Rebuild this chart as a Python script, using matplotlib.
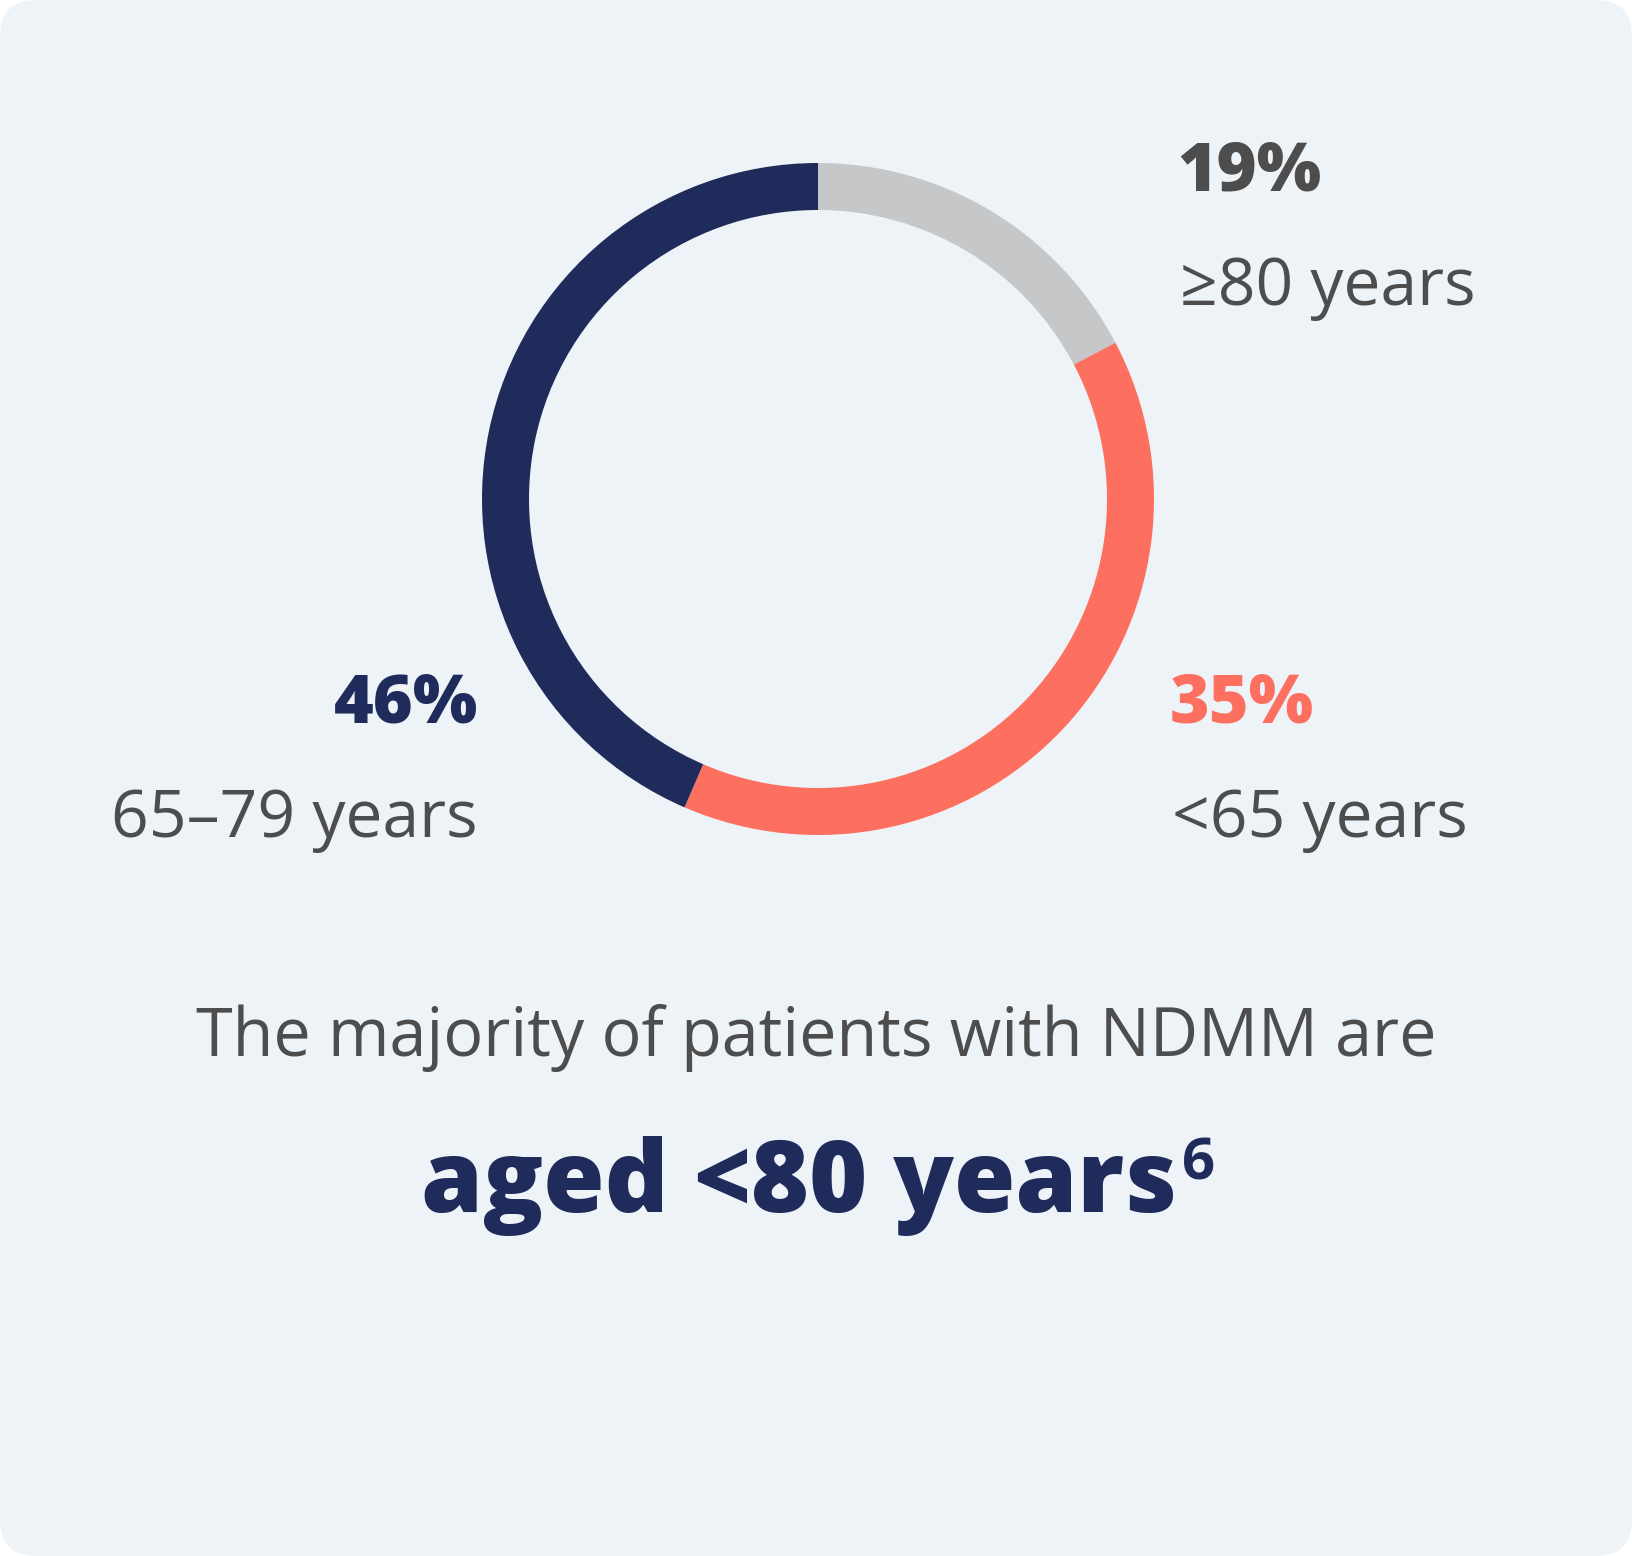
#!/usr/bin/env python3
"""Donut chart: NDMM patients by age group."""

import matplotlib
matplotlib.use("Agg")
import matplotlib.pyplot as plt
from matplotlib.patches import FancyBboxPatch

# ---------------------------------------------------------------------------
# Data
# ---------------------------------------------------------------------------

groups = ["\u226580 years", "<65 years", "65\u201379 years"]
pct_labels = ["19%", "35%", "46%"]
# arc shares as drawn in the graphic (clockwise from 12 o'clock)
arc_share = [17.3, 39.2, 43.5]

headline = "The majority of patients with NDMM are"
emphasis = "aged <80 years"
footnote = "6"

# ---------------------------------------------------------------------------
# Style
# ---------------------------------------------------------------------------

W, H = 1632, 1556
DPI = 100
BG = "#EEF3F8"
GREY_TXT = "#4D4D4D"
NAVY = "#1F2B5B"
CORAL = "#FD7060"
LIGHT_GREY = "#C6C7C9"
SEG_COLORS = [LIGHT_GREY, CORAL, NAVY]
FONT = ["Open Sans", "DejaVu Sans"]


def px(v):
    """pixel size -> points"""
    return v * 72 / DPI


fig = plt.figure(figsize=(W / DPI, H / DPI), dpi=DPI, facecolor="white")
ax = fig.add_axes([0, 0, 1, 1])

# rounded card
card = FancyBboxPatch((0, 0), W, H, boxstyle="round,pad=0,rounding_size=36",
                      facecolor=BG, edgecolor="none", zorder=0)
ax.add_patch(card)

# donut
cx, cy, r_out, ring = 818, H - 499, 336, 47
ax.pie(arc_share, colors=SEG_COLORS, startangle=90, counterclock=False,
       center=(cx, cy), radius=r_out, frame=True,
       wedgeprops=dict(width=ring, edgecolor="none", linewidth=0))

ax.set_xlim(0, W)
ax.set_ylim(0, H)
ax.set_aspect("equal")
ax.axis("off")

# ── labels ────────────────────────────────────────────────────────────────
pct_size = px(68)
lab_size = px(66)

# (pct x, pct baseline, label x, label baseline, ha, pct colour)
label_pos = [
    (1177, 190, 1180, 305, "left", GREY_TXT),
    (1170, 722, 1172, 837, "left", CORAL),
    (478, 722, 478, 837, "right", NAVY),
]
for (px_, py_, lx, ly, ha, col), pct, grp in zip(label_pos, pct_labels, groups):
    ax.text(px_, H - py_, pct, ha=ha, va="baseline", fontsize=pct_size,
            fontweight="heavy", color=col, family=FONT)
    ax.text(lx, H - ly, grp, ha=ha, va="baseline", fontsize=lab_size,
            color=GREY_TXT, family=FONT)

# ── caption ───────────────────────────────────────────────────────────────
ax.text(816, H - 1056, headline, ha="center", va="baseline",
        fontsize=px(66.5), color=GREY_TXT, family=FONT)

t = ax.text(799, H - 1212, emphasis, ha="center", va="baseline",
            fontsize=px(99.5), fontweight="heavy", color=NAVY, family=FONT)

renderer = fig.canvas.get_renderer()
bb = t.get_window_extent(renderer)
x_right = ax.transData.inverted().transform((bb.x1, bb.y0))[0]
ax.text(x_right + 5, H - 1180, footnote, ha="left", va="baseline",
        fontsize=px(58), fontweight="bold", color=NAVY, family=FONT)

fig.savefig("out.png", dpi=DPI, facecolor="white")
